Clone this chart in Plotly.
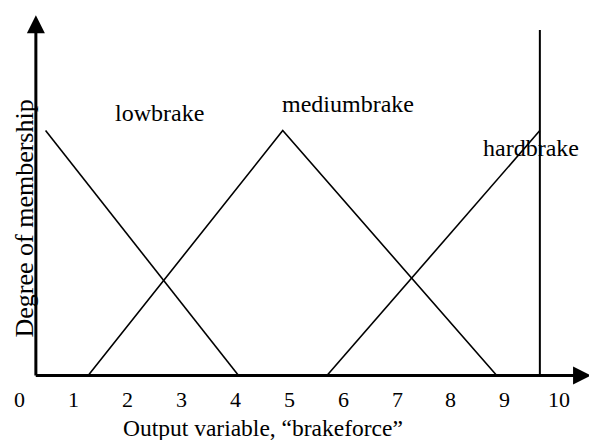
import plotly.graph_objects as go

# Membership functions (x = brakeforce, y = degree of membership)
low_x = [0.48, 4.06]
low_y = [1.0, 0.0]
medium_x = [1.27, 4.88, 8.85]
medium_y = [0.0, 1.0, 0.0]
hard_x = [5.70, 9.65]
hard_y = [0.0, 1.0]
limit_x = [9.65, 9.65]
limit_y = [0.0, 1.41]

tick_vals = [0, 1, 2, 3, 4, 5, 6, 7, 8, 9, 10]
tick_text = ["0", "1", "2", "3", "4", "5", "6", "7", "8", "9", "10"]

set_names = ["lowbrake", "mediumbrake", "hardbrake"]
set_label_x = [2.59, 6.09, 9.48]
set_label_y = [1.071, 1.108, 0.929]

FONT = "Liberation Serif, Times New Roman, serif"
line_style = dict(color="black", width=1.6)

fig = go.Figure()
for xs, ys in [(low_x, low_y), (medium_x, medium_y), (hard_x, hard_y)]:
    fig.add_trace(go.Scatter(x=xs, y=ys, mode="lines", line=line_style,
                             hoverinfo="skip", showlegend=False))
fig.add_trace(go.Scatter(x=limit_x, y=limit_y, mode="lines",
                         line=dict(color="black", width=2),
                         hoverinfo="skip", showlegend=False))

# page body has an 8px margin, so the figure is 589x432 and ranges are shifted
X0, X1 = -0.217, 10.71
Y0, Y1 = -0.263, 1.50
axis_origin_x = 0.30

annotations = []
# axes with arrowheads
annotations.append(dict(x=axis_origin_x, y=1.47, ax=axis_origin_x, ay=-0.006,
                        xref="x", yref="y", axref="x", ayref="y", text="",
                        showarrow=True, arrowhead=2, arrowsize=1.2,
                        arrowwidth=3, arrowcolor="black"))
annotations.append(dict(x=10.6, y=0.0, ax=axis_origin_x - 0.03, ay=0.0,
                        xref="x", yref="y", axref="x", ayref="y", text="",
                        showarrow=True, arrowhead=2, arrowsize=1.2,
                        arrowwidth=3, arrowcolor="black"))
# tick labels
for v, t in zip(tick_vals, tick_text):
    annotations.append(dict(x=v, y=-0.098, xref="x", yref="y", text=t,
                            showarrow=False, font=dict(family=FONT, size=22, color="black")))
# set names
for n, lx, ly in zip(set_names, set_label_x, set_label_y):
    annotations.append(dict(x=lx, y=ly, xref="x", yref="y", text=n,
                            showarrow=False, font=dict(family=FONT, size=24, color="black")))
# axis titles
annotations.append(dict(x=4.52, y=-0.214, xref="x", yref="y",
                        text="Output variable, \u201cbrakeforce\u201d", showarrow=False,
                        font=dict(family=FONT, size=23.5, color="black")))
annotations.append(dict(x=0.09, y=0.639, xref="x", yref="y",
                        text="Degree of membership", textangle=-90, showarrow=False,
                        font=dict(family=FONT, size=26, color="black")))

fig.update_layout(
    width=589, height=432,
    margin=dict(l=0, r=0, t=0, b=0),
    paper_bgcolor="white", plot_bgcolor="white",
    xaxis=dict(range=[X0, X1], visible=False, fixedrange=True),
    yaxis=dict(range=[Y0, Y1], visible=False, fixedrange=True),
    annotations=annotations,
    showlegend=False,
)

fig.write_html("out.html")
